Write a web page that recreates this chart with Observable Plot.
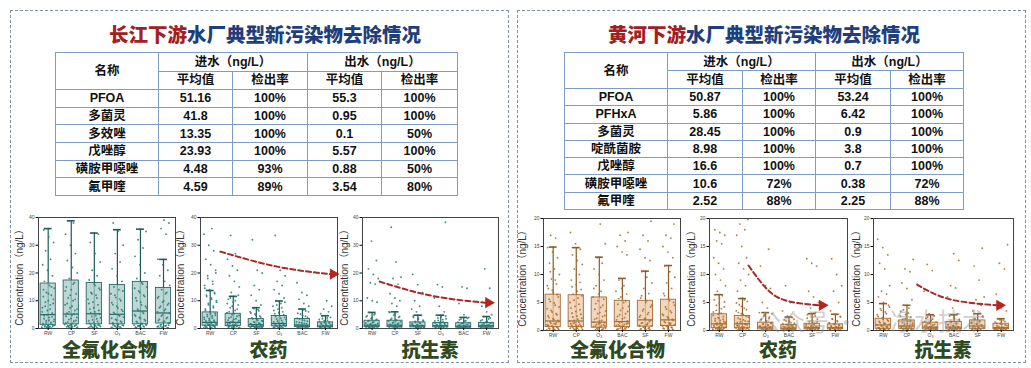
<!DOCTYPE html>
<html><head><meta charset="utf-8">
<script src="https://cdn.jsdelivr.net/npm/d3@7"></script>
<script src="https://cdn.jsdelivr.net/npm/@observablehq/plot@0.6"></script>
<style>
body{margin:0;width:1031px;height:368px;background:#fff;position:relative;overflow:hidden;font-family:"Noto Sans CJK SC",sans-serif;}
.panel{position:absolute;border:1.5px dashed #7f8fa6;box-sizing:border-box;}
.title{position:absolute;font-size:19.5px;font-weight:900;line-height:28px;white-space:nowrap;transform:translateX(-50%);}
.title .a{color:#a3201f}.title .b{color:#1f3f7c}
table{position:absolute;border-collapse:collapse;table-layout:fixed;font-family:"Liberation Sans","Noto Sans CJK SC",sans-serif;font-weight:700;font-size:12.5px;color:#111;border:1.5px solid #6a8fc0;}
td{border:1px solid #7d9cc8;padding:0;text-align:center;line-height:14px;overflow:hidden;white-space:nowrap;}
.cat{position:absolute;font-size:19px;font-weight:900;color:#2f4a1e;transform:translateX(-50%);line-height:19px;white-space:nowrap;}
.chart{position:absolute;}
.ylab{position:absolute;font-family:"Liberation Sans","Noto Sans CJK SC",sans-serif;font-size:10px;color:#333;white-space:nowrap;transform:translate(-50%,-50%) rotate(-90deg);line-height:12px;}
.wm{position:absolute;font-size:24px;color:#8a8a8a;opacity:0.4;white-space:nowrap;line-height:26px;}
</style></head>
<body>
<div class="panel" style="left:10px;top:10px;width:499px;height:353px"></div>
<div class="panel" style="left:517px;top:10px;width:509px;height:353px"></div>
<div class="title" style="left:265px;top:20px"><span class="a">长江下游</span><span class="b">水厂典型新污染物去除情况</span></div>
<div class="title" style="left:764px;top:20px"><span class="a">黄河下游</span><span class="b">水厂典型新污染物去除情况</span></div>
<div id="tables"></div>
<div id="charts"></div>
<script>
// ---------- table data ----------
const tableHeader1 = ["名称", "进水（ng/L）", "出水（ng/L）"];
const tableHeader2 = ["平均值", "检出率", "平均值", "检出率"];
const yangtzeNames = ["PFOA", "多菌灵", "多效唑", "戊唑醇", "磺胺甲噁唑", "氟甲喹"];
const yangtzeInMean = ["51.16", "41.8", "13.35", "23.93", "4.48", "4.59"];
const yangtzeInRate = ["100%", "100%", "100%", "100%", "93%", "89%"];
const yangtzeOutMean = ["55.3", "0.95", "0.1", "5.57", "0.88", "3.54"];
const yangtzeOutRate = ["100%", "100%", "50%", "100%", "50%", "80%"];
const yellowNames = ["PFOA", "PFHxA", "多菌灵", "啶酰菌胺", "戊唑醇", "磺胺甲噁唑", "氟甲喹"];
const yellowInMean = ["50.87", "5.86", "28.45", "8.98", "16.6", "10.6", "2.52"];
const yellowInRate = ["100%", "100%", "100%", "100%", "100%", "72%", "88%"];
const yellowOutMean = ["53.24", "6.42", "0.9", "3.8", "0.7", "0.38", "2.25"];
const yellowOutRate = ["100%", "100%", "100%", "100%", "100%", "72%", "88%"];

// ---------- chart data ----------
const catsLeft = ["RW", "CP", "SF", "O₃", "BAC", "FW"];
const catsRight = ["RW", "CP", "O₃", "BAC", "SF", "FW"];
const groupLabels = ["全氟化合物", "农药", "抗生素"];
const yLabel = "Concentration（ng/L）";

// box statistics: q1, median, q3, upper whisker
const pfasL_q1 = [1.2, 1.5, 1.5, 1.5, 1.5, 1.8];
const pfasL_med = [5, 5.2, 5.3, 5.1, 6.3, 5.6];
const pfasL_q3 = [16.2, 17.3, 16.4, 15.7, 16.8, 14.6];
const pfasL_hi = [36, 38.8, 34.4, 35.6, 35.8, 24.9];
const pestL_q1 = [1, 0.9, 0.6, 0.8, 0.5, 0.4];
const pestL_med = [2.2, 2.2, 1.4, 1.8, 1.2, 0.9];
const pestL_q3 = [5.8, 5.3, 3.4, 4.5, 3.4, 2.2];
const pestL_hi = [13.7, 11.6, 7.5, 9.9, 7, 4.6];
const abL_q1 = [0.5, 0.5, 0.4, 0.4, 0.3, 0.4];
const abL_med = [1.2, 1.2, 1, 1, 0.8, 1];
const abL_q3 = [2.8, 2.8, 2.2, 2, 1.9, 2];
const abL_hi = [5.8, 6, 4.8, 4.8, 4, 4.3];
const pfasR_q1 = [0.6, 0.6, 0.5, 0.6, 0.7, 0.8];
const pfasR_med = [1.7, 1.7, 1.5, 1.6, 1.9, 1.9];
const pfasR_q3 = [6.4, 6.3, 5.9, 5.3, 5.3, 5.5];
const pfasR_hi = [14.9, 14.8, 13.1, 9.3, 10.6, 11.6];
const pestR_q1 = [0.4, 0.4, 0.2, 0.15, 0.2, 0.2];
const pestR_med = [1.2, 1.2, 0.6, 0.4, 0.5, 0.5];
const pestR_q3 = [2.9, 2.6, 1.4, 1, 1.2, 1.1];
const pestR_hi = [6.4, 5.7, 3.2, 2.4, 3, 2.9];
const abR_q1 = [0.3, 0.3, 0.2, 0.2, 0.3, 0.2];
const abR_med = [1, 0.8, 0.6, 0.6, 0.8, 0.5];
const abR_q3 = [2.1, 1.8, 1.4, 1.5, 1.8, 1.2];
const abR_hi = [4.8, 4.5, 2.8, 2.8, 3, 2.1];

// sample points (ng/L) per stage
const pfasL_pts = [
 [0.2,0.4,0.6,0.8,1,1.3,1.6,2,2.5,3,3.5,4.2,5,6,7,8,9,10,11.5,12,13,14.5,15.5,17,19,21,23,25,28,31,33,35.5,0.1,0.3,0.5,0.7,0.9,1.1,1.4,1.8,2.2,2.8,3.3,4,4.6,5.5,6.5,7.5,8.5,9.5,10.5,12.5,14,15,0.6,1.2],
 [0.3,0.5,0.7,1,1.2,1.5,2,2.6,3.2,4,4.8,5.5,6.5,7.5,8.5,10,11,12.5,14,15,16.5,18,20,22,24.5,27,30,34,38,0.1,0.2,0.4,0.6,0.9,1.1,1.4,1.8,2.3,2.9,3.6,4.4,5.2,6,7,8,9,10.5,12,13.5,16,0.8,1.3],
 [0.2,0.4,0.7,1,1.3,1.7,2.2,2.8,3.5,4.3,5.2,6,7,8.5,9.5,10.5,12,13,14.5,16,17.5,19,21,24,27,31,34,0.1,0.3,0.5,0.8,1.1,1.5,1.9,2.5,3.1,3.9,4.7,5.6,6.5,7.5,9,11,12.5,14,15.5,0.6,1.2],
 [0.3,0.5,0.8,1.1,1.4,1.8,2.3,3,3.7,4.5,5.3,6.2,7.4,8.6,10,11.2,12.5,14,15,17,19,21.5,24,27,30,35,38,0.1,0.2,0.4,0.6,0.9,1.2,1.6,2,2.6,3.3,4.1,4.9,5.8,6.8,8,9.3,10.6,12,13.5,0.7,1.3],
 [0.2,0.5,0.8,1,1.4,1.9,2.5,3.2,4,5,6,7,8,9.5,11,12,13.5,15,16.5,18,20,23,26,29,32,35,0.1,0.3,0.6,0.9,1.2,1.6,2.1,2.8,3.6,4.5,5.5,6.5,7.5,8.5,10,11.5,13,14.5,16,0.7,1.3],
 [0.3,0.5,0.8,1.1,1.5,2,2.6,3.3,4,5,6,7,8,9,10,11.5,13,14,15.5,17,19,21,23,25,34,36,38,39,0.1,0.2,0.4,0.6,0.9,1.3,1.8,2.3,2.9,3.6,4.5,5.5,6.5,7.5,8.5,9.5,11,12.5,0.7,1.2]];
const pestL_pts = [
 [0.2,0.3,0.5,0.7,0.9,1.1,1.3,1.6,2,2.3,2.7,3,3.5,4,4.5,5,5.5,6,7,8,9,10,11,12,13,14,15.5,17,19,21,23,25,28,30,34,36,0.1,0.4,0.6,0.8,1,1.2,1.5,1.8,2.1,2.5,2.9,3.3,3.8,4.3,4.8,5.3,6.5,7.5,8.5,9.5,10.5,11.5,12.5,13.5,14.5,16,18,20,0.3,0.5,0.9,1.4],
 [0.2,0.4,0.6,0.8,1,1.3,1.6,2,2.4,2.8,3.3,3.8,4.4,5,5.7,6.5,7.5,8.5,9.5,10.5,11.5,13,15,17,19,21,22.5,25,27,33.5,0.1,0.3,0.5,0.7,0.9,1.1,1.4,1.8,2.2,2.6,3,3.5,4.1,4.7,5.3,6,7,8,9,10,11,12,0.3,0.6,1.2],
 [0.2,0.3,0.5,0.7,0.9,1.1,1.4,1.7,2,2.4,2.8,3.2,3.8,4.5,5.2,6,6.8,7.5,8.5,10,12,14,15.5,20,21,32,0.1,0.2,0.4,0.6,0.8,1,1.2,1.5,1.8,2.2,2.6,3,3.5,4.1,4.8,5.6,6.4,7.2,0.3,0.5,0.9],
 [0.2,0.4,0.6,0.8,1,1.3,1.6,2,2.4,2.9,3.4,4,4.6,5.3,6,7,8,9,10,11,12.5,14,15.5,17,19,21,33.5,0.1,0.3,0.5,0.7,0.9,1.1,1.4,1.8,2.2,2.7,3.2,3.7,4.3,5,5.7,6.5,7.5,8.5,9.5,0.4,0.6,1.2],
 [0.2,0.3,0.5,0.7,0.9,1.1,1.4,1.7,2,2.4,2.9,3.4,4,4.7,5.5,6.3,7,8,9,10.5,12,13,16.5,0.1,0.2,0.4,0.6,0.8,1,1.2,1.5,1.8,2.2,2.6,3.1,3.7,4.4,5.2,6,6.8,0.3,0.5,0.9],
 [0.1,0.2,0.4,0.6,0.8,1,1.2,1.5,1.8,2.1,2.5,3,3.5,4,4.6,5.3,6,7,8,10,0.1,0.3,0.5,0.7,0.9,1.1,1.3,1.6,1.9,2.3,2.8,3.3,3.8,4.4,0.2,0.4,0.6]];
const abL_pts = [
 [0.1,0.2,0.4,0.6,0.8,1,1.2,1.5,1.8,2.2,2.6,3,3.6,4.2,5,5.8,9.5,10,11,16,16.5,18,19.5,21.5,24.5,31.5,0.1,0.3,0.5,0.7,0.9,1.1,1.4,1.7,2,2.4,2.8,3.3,3.9,4.6,5.3,0.2,0.6,1],
 [0.1,0.3,0.5,0.7,0.9,1.1,1.4,1.7,2,2.4,2.8,3.3,4,4.8,6,8,9,10,11,12.5,16,18,18.5,24,36.5,0.1,0.2,0.4,0.6,0.8,1,1.2,1.5,1.9,2.3,2.7,3.1,3.6,4.3,5.2,5.8,0.3,0.7],
 [0.1,0.2,0.4,0.6,0.8,1,1.2,1.5,1.8,2.2,2.7,3.3,4,4.8,6,7,8,10,13,15.8,19.5,0.1,0.3,0.5,0.7,0.9,1.1,1.4,1.7,2,2.5,3,3.6,4.4,0.2,0.6],
 [0.1,0.2,0.4,0.6,0.8,1,1.3,1.6,2,2.4,2.9,3.5,4.2,4.8,6,8,11,15,15.8,38.3,0.1,0.3,0.5,0.7,0.9,1.1,1.4,1.8,2.2,2.7,3.2,3.8,4.5,0.2,0.6],
 [0.1,0.2,0.4,0.6,0.8,1,1.2,1.5,1.9,2.3,2.8,3.4,4,5,9,14.5,15,0.1,0.3,0.5,0.7,0.9,1.1,1.4,1.7,2.1,2.6,3.1,3.7,0.2,0.6],
 [0.1,0.2,0.4,0.6,0.8,1,1.2,1.5,1.9,2.3,2.8,3.4,4.3,5,6,8,14.5,21.5,0.1,0.3,0.5,0.7,0.9,1.1,1.4,1.7,2.1,2.6,3.1,3.8,0.2,0.6]];
const pfasR_pts = [
 [0.1,0.2,0.3,0.5,0.7,0.9,1.1,1.3,1.6,1.9,2.3,2.8,3.3,3.9,4.5,5.2,6,6.8,7.5,8.3,9.2,10,11,12,13,14,14.8,16.5,17,0.1,0.2,0.4,0.6,0.8,1,1.2,1.5,1.8,2.1,2.6,3,3.6,4.2,4.9,5.6,6.4,7.2,8,9,10.5,0.3,0.5,0.9,1.4],
 [0.1,0.2,0.4,0.6,0.8,1,1.2,1.5,1.8,2.2,2.6,3.1,3.7,4.3,5,5.8,6.5,7.3,8.2,9,10,11,11.8,12.5,13.5,14.5,15.5,17.5,0.1,0.3,0.5,0.7,0.9,1.1,1.4,1.7,2,2.4,2.9,3.4,4,4.7,5.4,6.2,7,7.8,8.6,0.2,0.4,0.8,1.3],
 [0.1,0.2,0.4,0.6,0.8,1,1.2,1.5,1.8,2.2,2.7,3.2,3.8,4.5,5.3,6,7,8,9,10,11,12,13,15.5,19,0.1,0.3,0.5,0.7,0.9,1.1,1.4,1.7,2,2.5,3,3.5,4.1,4.8,5.6,6.5,7.5,0.2,0.4,0.8,1.3],
 [0.1,0.2,0.4,0.6,0.8,1,1.2,1.5,1.9,2.3,2.8,3.4,4,4.7,5.3,6,7,8,9,13.5,14,15,16,17,17.5,0.1,0.3,0.5,0.7,0.9,1.1,1.4,1.7,2.1,2.5,3,3.6,4.3,5,5.7,6.5,7.5,0.2,0.4,0.8,1.3],
 [0.1,0.2,0.4,0.6,0.8,1,1.3,1.6,2,2.4,2.9,3.5,4.2,5,5.8,6.6,7.5,8.5,9.5,10.5,12.5,13,14.5,16,17,19.5,0.1,0.3,0.5,0.7,0.9,1.1,1.4,1.8,2.2,2.7,3.2,3.8,4.5,5.3,6.2,0.2,0.4,0.8,1.3],
 [0.1,0.2,0.4,0.6,0.8,1,1.3,1.6,2,2.4,2.9,3.5,4.2,5,5.8,6.6,7.5,8.5,9.5,10.5,11.5,13,14,15,16.5,17,19,0.1,0.3,0.5,0.7,0.9,1.1,1.4,1.8,2.2,2.7,3.2,3.8,4.5,5.3,6.2,0.2,0.4,0.8,1.3]];
const pestR_pts = [
 [0.1,0.2,0.3,0.4,0.5,0.6,0.8,1,1.2,1.4,1.7,2,2.3,2.7,3.1,3.6,4.2,4.8,5.5,6.2,7,8,9,10,11,12,13,15.5,16,17,17.5,18,0.05,0.15,0.25,0.35,0.45,0.55,0.7,0.9,1.1,1.3,1.5,1.8,2.1,2.5,2.9,3.3,3.9,4.5,5.1,5.8,6.4,0.2,0.4,0.6,0.9,1.2,1.6,2.2],
 [0.1,0.2,0.3,0.4,0.5,0.7,0.9,1.1,1.3,1.6,1.9,2.2,2.6,3,3.5,4,4.6,5.2,5.8,7,8,9,10,11,12,13,15,17,18,19,19.8,0.05,0.15,0.25,0.35,0.45,0.6,0.8,1,1.2,1.4,1.7,2,2.4,2.8,3.2,3.7,4.3,4.9,5.5,0.2,0.4,0.6,0.9,1.2,1.6],
 [0.05,0.1,0.2,0.3,0.4,0.5,0.6,0.8,1,1.2,1.4,1.7,2,2.4,2.8,3.2,4,5,7.5,8,11.5,14.5,0.05,0.15,0.25,0.35,0.45,0.55,0.7,0.9,1.1,1.3,1.6,1.9,2.2,2.6,3,0.2,0.4,0.6],
 [0.05,0.1,0.15,0.2,0.3,0.4,0.5,0.6,0.7,0.9,1.1,1.3,1.6,1.9,2.3,2.6,3.5,5,8,0.05,0.1,0.2,0.25,0.35,0.45,0.55,0.65,0.8,1,1.2,1.4,1.7,2,0.15,0.3,0.5],
 [0.05,0.1,0.2,0.3,0.4,0.5,0.6,0.7,0.9,1.1,1.3,1.6,2,2.4,2.8,3.2,4,5,6,7,11.5,12,12.8,0.05,0.15,0.25,0.35,0.45,0.55,0.65,0.8,1,1.2,1.5,1.8,2.2,2.6,0.2,0.4,0.6],
 [0.05,0.1,0.2,0.3,0.4,0.5,0.6,0.7,0.9,1.1,1.3,1.6,2,2.4,2.8,3.5,5,7,8,10,12.8,0.05,0.15,0.25,0.35,0.45,0.55,0.65,0.8,1,1.2,1.4,1.7,2.1,2.5,0.2,0.4,0.6]];
const abR_pts = [
 [0.05,0.1,0.2,0.3,0.4,0.5,0.7,0.9,1.1,1.3,1.6,1.9,2.3,2.8,3.3,3.9,4.5,5,6,6.5,7,8,11,12,13.5,14.8,16.3,0.05,0.15,0.25,0.35,0.45,0.6,0.8,1,1.2,1.4,1.7,2,2.5,3,3.6,4.2,0.2,0.4,0.7],
 [0.05,0.1,0.2,0.3,0.4,0.5,0.7,0.9,1.1,1.3,1.6,2,2.4,2.9,3.4,4,4.5,5.5,7.5,8.5,10.5,11,12.7,0.05,0.15,0.25,0.35,0.45,0.6,0.8,1,1.2,1.4,1.7,2.1,2.6,3.1,3.7,0.2,0.4,0.7],
 [0.05,0.1,0.2,0.3,0.4,0.5,0.6,0.8,1,1.2,1.5,1.8,2.2,2.6,3,7,10.7,11.8,0.05,0.15,0.25,0.35,0.45,0.55,0.7,0.9,1.1,1.3,1.6,2,2.4,0.2,0.4],
 [0.05,0.1,0.2,0.3,0.4,0.5,0.6,0.8,1,1.2,1.5,1.8,2.2,2.6,3,4,6,7.6,8,12.5,13.7,0.05,0.15,0.25,0.35,0.45,0.55,0.7,0.9,1.1,1.3,1.6,2,2.4,0.2,0.4],
 [0.05,0.1,0.2,0.3,0.4,0.5,0.7,0.9,1.1,1.3,1.6,2,2.4,2.9,3.5,4.5,5.5,6,9,11.5,14.7,0.05,0.15,0.25,0.35,0.45,0.6,0.8,1,1.2,1.4,1.7,2.1,2.6,0.2,0.4],
 [0.05,0.1,0.2,0.3,0.4,0.5,0.6,0.8,1,1.2,1.5,1.8,2.1,3.5,4,6.5,11,12,15.3,0.05,0.15,0.25,0.35,0.45,0.55,0.7,0.9,1.1,1.3,1.6,1.9,0.2,0.4]];

// trend arrows (stage index, ng/L)
const arrowPestL = [{x:0.44,y:27.7},{x:2.9,y:22.3},{x:5.2,y:19.6}];
const arrowAbL = [{x:0.33,y:16.9},{x:2.6,y:11.8},{x:4.95,y:9.3}];
const arrowPestR = [{x:1.26,y:11.6},{x:2.1,y:7.2},{x:3,y:5.2},{x:4.3,y:4.5}];
const arrowAbR = [{x:1.43,y:8.2},{x:2.8,y:5.6},{x:4.8,y:4.5}];

// ---------- tables ----------
function makeTable(left, top, colW, h1, hRow, names, a, b, c, d) {
  const t = document.createElement("table");
  t.style.left = left + "px"; t.style.top = top + "px";
  const W = colW.reduce((s, v) => s + v, 0);
  t.style.width = W + "px";
  let html = "<colgroup>" + colW.map(w => `<col style="width:${w}px">`).join("") + "</colgroup>";
  html += `<tr style="height:${h1}px"><td rowspan="2">${tableHeader1[0]}</td><td colspan="2">${tableHeader1[1]}</td><td colspan="2">${tableHeader1[2]}</td></tr>`;
  html += `<tr style="height:${h1}px">` + tableHeader2.map(s => `<td>${s}</td>`).join("") + "</tr>";
  names.forEach((n, i) => {
    html += `<tr style="height:${hRow}px"><td>${n}</td><td>${a[i]}</td><td>${b[i]}</td><td>${c[i]}</td><td>${d[i]}</td></tr>`;
  });
  t.innerHTML = html;
  document.getElementById("tables").appendChild(t);
}
makeTable(55, 52, [103, 74, 75, 74, 76], 18.5, 17.7, yangtzeNames, yangtzeInMean, yangtzeInRate, yangtzeOutMean, yangtzeOutRate);
makeTable(564, 52, [103, 75, 73, 75, 73], 18, 17.3, yellowNames, yellowInMean, yellowInRate, yellowOutMean, yellowOutRate);

// ---------- charts ----------
const teal = {fill: "#a6c9c6", stroke: "#2b6767", whisk: "#1d5a5a", pt: "#237a74"};
const tan = {fill: "#ebcaa7", stroke: "#a06d3c", whisk: "#8b5a28", pt: "#b06a22"};

function chart(cfg) {
  const [fl, ft, fw, fh] = cfg.frame;
  const mL = 30, mT = 5, mR = 5, mB = 11;
  const col = cfg.colors;
  const boxes = cfg.cats.map((c, i) => ({i, q1: cfg.q1[i], med: cfg.med[i], q3: cfg.q3[i], hi: cfg.hi[i]}));
  const dots = cfg.pts.flatMap((vals, i) => vals.map((v, k) => ({i, v, k})));
  const jit = d => d.i + (((d.k * 0.6180339 + d.i * 0.371) % 1) - 0.5) * 0.56;
  const marks = [
    Plot.ruleX(boxes, {x: "i", y1: 0, y2: "hi", stroke: col.whisk, strokeWidth: 1.2}),
    Plot.ruleY(boxes, {y: "hi", x1: d => d.i - 0.17, x2: d => d.i + 0.17, stroke: col.whisk, strokeWidth: 1.6}),
    Plot.rect(boxes, {x1: d => d.i - 0.33, x2: d => d.i + 0.33, y1: "q1", y2: "q3", fill: col.fill, fillOpacity: 0.75, stroke: col.stroke, strokeWidth: 0.9}),
    Plot.ruleY(boxes, {y: "med", x1: d => d.i - 0.33, x2: d => d.i + 0.33, stroke: col.stroke, strokeWidth: 1.2}),
    Plot.dot(dots, {x: jit, y: "v", r: 0.95, fill: col.pt, fillOpacity: 0.85, stroke: "none"})
  ];
  if (cfg.arrow) {
    const a = cfg.arrow;
    marks.push(Plot.line(a, {x: "x", y: "y", curve: "natural", stroke: "#a8292a", strokeWidth: 2, strokeDasharray: "5,3"}));
    marks.push(Plot.dot([a[a.length - 1]], {x: "x", y: "y", symbol: "triangle", rotate: 90, r: 4.2, fill: "#b5261f", stroke: "none", dx: 3}));
  }
  marks.push(
    Plot.frame({stroke: "#444", strokeWidth: 1}),
    Plot.axisY({ticks: cfg.yticks, tickSize: 2.5, tickPadding: 1.5, fontSize: 5, label: null, fill: "#444"}),
    Plot.axisX({ticks: [0, 1, 2, 3, 4, 5], tickFormat: i => cfg.cats[i], tickSize: 2, tickPadding: 1, fontSize: 5, label: null, fill: "#444"})
  );
  const p = Plot.plot({
    width: mL + fw + mR, height: mT + fh + mB,
    marginLeft: mL, marginTop: mT, marginRight: mR, marginBottom: mB,
    x: {domain: [-0.42, 5.52]},
    y: {domain: [0, cfg.ymax]},
    style: {background: "transparent", overflow: "visible", fontFamily: "Liberation Sans"},
    marks
  });
  const w = document.createElement("div");
  w.className = "chart";
  w.style.left = (fl - mL) + "px"; w.style.top = (ft - mT) + "px";
  w.appendChild(p);
  document.getElementById("charts").appendChild(w);
  const yl = document.createElement("div");
  yl.className = "ylab";
  yl.textContent = yLabel;
  yl.style.left = cfg.lx + "px";
  yl.style.top = (ft + fh / 2 + 2) + "px";
  document.body.appendChild(yl);
  const lab = document.createElement("div");
  lab.className = "cat";
  lab.textContent = cfg.label;
  lab.style.left = (fl + fw / 2 + (cfg.labdx || 0)) + "px";
  lab.style.top = "339px";
  document.body.appendChild(lab);
}

const t40 = [0, 10, 20, 30, 40], t20 = [0, 5, 10, 15, 20];
chart({frame: [38, 217, 137, 111], ymax: 40, yticks: t40, cats: catsLeft, q1: pfasL_q1, med: pfasL_med, q3: pfasL_q3, hi: pfasL_hi, pts: pfasL_pts, colors: teal, label: groupLabels[0], lx: 20, labdx: 3});
chart({frame: [200, 217, 137, 111], ymax: 40, yticks: t40, cats: catsLeft, q1: pestL_q1, med: pestL_med, q3: pestL_q3, hi: pestL_hi, pts: pestL_pts, colors: teal, label: groupLabels[1], lx: 181, arrow: arrowPestL});
chart({frame: [362, 217, 136, 111], ymax: 40, yticks: t40, cats: catsLeft, q1: abL_q1, med: abL_med, q3: abL_q3, hi: abL_hi, pts: abL_pts, colors: teal, label: groupLabels[2], lx: 345, arrow: arrowAbL});
chart({frame: [543, 218, 137, 112], ymax: 20, yticks: t20, cats: catsRight, q1: pfasR_q1, med: pfasR_med, q3: pfasR_q3, hi: pfasR_hi, pts: pfasR_pts, colors: tan, label: groupLabels[0], lx: 523, labdx: 6});
chart({frame: [709, 218, 138, 112], ymax: 20, yticks: t20, cats: catsRight, q1: pestR_q1, med: pestR_med, q3: pestR_q3, hi: pestR_hi, pts: pestR_pts, colors: tan, label: groupLabels[1], lx: 692, arrow: arrowPestR});
chart({frame: [873, 218, 140, 112], ymax: 20, yticks: t20, cats: catsRight, q1: abR_q1, med: abR_med, q3: abR_q3, hi: abR_hi, pts: abR_pts, colors: tan, label: groupLabels[2], lx: 857, arrow: arrowAbR});
</script>
<div class="wm" style="left:757px;top:308px">公众号 · </div>
<div class="wm" style="left:890px;top:307px">净水技术</div>
</body></html>
